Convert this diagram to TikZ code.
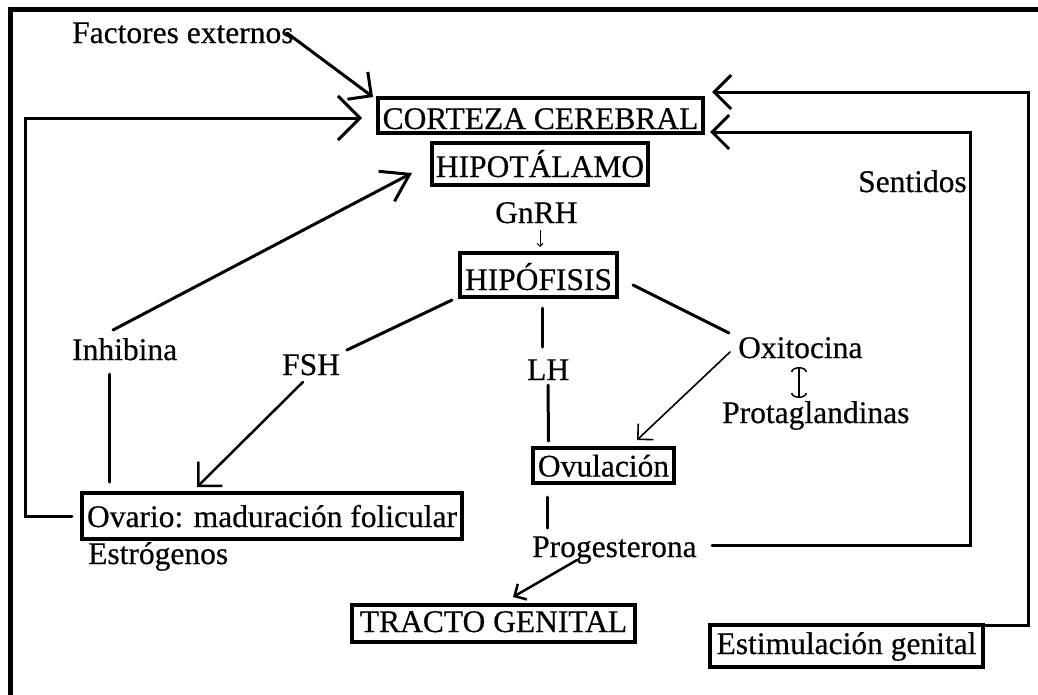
\documentclass[tikz,border=0pt]{standalone}
\usepackage{fontspec}
\setmainfont{Liberation Serif}[UprightFeatures={FakeBold=0.4}]
\usetikzlibrary{arrows.meta,calc}
\begin{document}
\begin{tikzpicture}[x=1pt,y=-1pt,
  txt/.style={inner sep=0pt, anchor=base west, font=\fontsize{31.5pt}{38pt}\selectfont},
  boxnode/.style={draw, line width=3.2pt, inner xsep=0pt, inner ysep=0pt, font=\fontsize{31.5pt}{38pt}\selectfont},
  ln/.style={line width=3pt, line cap=round},
  mid/.style={line width=2.5pt, line cap=round},
  thin/.style={line width=1.6pt, line cap=round},
  bigtip/.style={-{Straight Barb[length=22pt,width=44pt]}},
  medtip/.style={-{Straight Barb[length=17pt,width=34pt]}},
  inhtip/.style={-{Straight Barb[length=26pt,width=34pt]}},
  smalltip/.style={-{Straight Barb[length=9pt,width=18pt]}},
  thintip/.style={-{Straight Barb[length=11pt,width=22pt]}},
  gnrhtip/.style={-{Straight Barb[length=3pt,width=6pt]}}
]
\useasboundingbox (0,0) rectangle (1038,694);
\fill[white] (0,0) rectangle (1038,694);
% frame
\draw[line width=5pt] (1045,9.5) -- (10,9.5) -- (10,700);

% boxed nodes
\node[boxnode, minimum width=325pt, minimum height=35pt, text height=30pt, text depth=3pt] (corteza) at (540.5,115.5) {CORTEZA CEREBRAL};
\node[boxnode, minimum width=216pt, minimum height=42pt, text height=32pt, text depth=6pt] (hipotalamo) at (540,164) {HIPOTÁLAMO};
\node[boxnode, minimum width=157pt, minimum height=44pt, text height=35pt, text depth=5pt] (hipofisis) at (538.5,275) {HIPÓFISIS};
\node[boxnode, minimum width=141pt, minimum height=35pt, text height=27pt, text depth=5pt] (ovulacion) at (603.5,465.5) {Ovulación};
\node[boxnode, minimum width=380pt, minimum height=46pt, text height=30pt, text depth=8pt] (ovario) at (272,516) {Ovario: maduración folicular};
\node[boxnode, minimum width=283pt, minimum height=37pt, text height=24pt, text depth=7pt] (tracto) at (493.5,623.5) {TRACTO GENITAL};
\node[boxnode, minimum width=273pt, minimum height=42pt, text height=26pt, text depth=10pt] (estim) at (846.5,646) {Estimulación genital};

% text nodes
\node[txt] (factores) at (72,43) {Factores externos};
\node[txt] (gnrh) at (495,223) {GnRH};
\node[txt] (sentidos) at (858,192) {Sentidos};
\node[txt] (inhibina) at (72,360) {Inhibina};
\node[txt] (fsh) at (282,375) {FSH};
\node[txt] (lh) at (527,380) {LH};
\node[txt] (oxitocina) at (738,358) {Oxitocina};
\node[txt] (prostag) at (722,423) {Protaglandinas};
\node[txt] (progesterona) at (532,557) {Progesterona};
\node[txt] (estrogenos) at (88,564) {Estrógenos};

% connectors
\draw[ln, medtip] ($(factores.base west)+(215,-10)$) -- ($(corteza.center)+(-167.5,-18.5)$);
\draw[ln, bigtip] ($(ovario.center)+(-200,0)$) -- ++(-47,0) |- ($(corteza.center)+(-178.5,2.5)$);
\draw[ln, inhtip] ($(inhibina.base west)+(41,-30)$) -- ($(hipotalamo.center)+(-128,9)$);
\draw[ln] ($(inhibina.base west)+(37,14)$) -- ($(ovario.center)+(-163,-34)$);
\draw[ln] ($(hipofisis.center)+(-86.5,25)$) -- ($(fsh.base west)+(65,-25)$);
\draw[mid, medtip] ($(fsh.base west)+(21,7)$) -- ($(ovario.center)+(-75,-29)$);
\draw[ln] ($(hipofisis.center)+(3.5,33)$) -- ($(lh.base west)+(15,-33)$);
\draw[ln] ($(lh.base west)+(21,5)$) -- ($(ovulacion.center)+(-55,-24.5)$);
\draw[ln] ($(hipofisis.center)+(94.5,10)$) -- ($(oxitocina.base west)+(-9,-25)$);
\draw[thin, thintip] ($(oxitocina.base west)+(-8,-6)$) -- ($(ovulacion.center)+(33.5,-25.5)$);
\draw[ln] ($(ovulacion.center)+(-56.5,31.5)$) -- ($(progesterona.base west)+(15,-29)$);
\draw[mid, smalltip] ($(progesterona.base west)+(45,3)$) -- ($(tracto.center)+(19.5,-26.5)$);
\draw[ln, medtip] ($(progesterona.base west)+(180,-12)$) -| ($(corteza.center)+(429.5,16.5)$) -- ($(corteza.center)+(169.5,16.5)$);
\draw[ln, medtip] ($(estim.center)+(-136.5,-21)$) -| ($(corteza.center)+(487.5,-23.5)$) -- ($(corteza.center)+(171.5,-23.5)$);
\draw[line width=1pt, gnrhtip] ($(gnrh.base west)+(45,7)$) -- ($(hipofisis.center)+(1.5,-28)$);
\draw[line width=1.5pt, {Arc Barb[length=5pt,width=16pt]}-{Arc Barb[length=5pt,width=16pt]}] ($(oxitocina.base west)+(61,9)$) -- ($(prostag.base west)+(77,-25)$);
\end{tikzpicture}
\end{document}
